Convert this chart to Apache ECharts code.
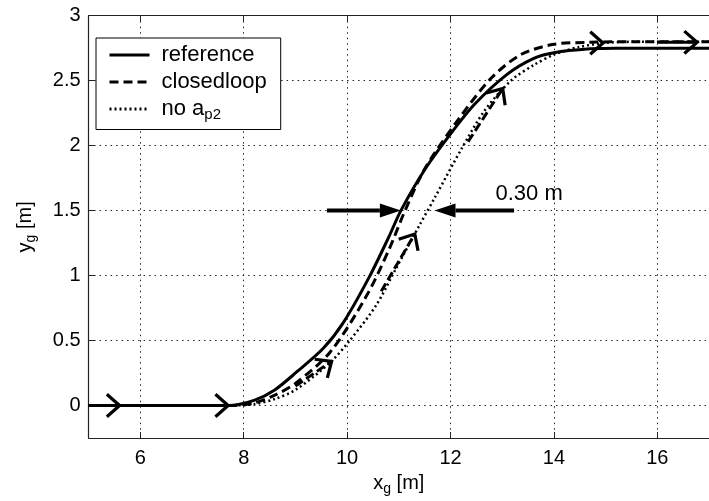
<!DOCTYPE html>
<html>
<head>
<meta charset="utf-8">
<script src="https://cdn.jsdelivr.net/npm/echarts@6/dist/echarts.min.js"></script>
<style>
  html, body { margin: 0; padding: 0; background: #fff; }
  #chart { width: 709px; height: 501px; }
</style>
</head>
<body>
<div id="chart"></div>
<script>
// Axis ticks
const xTicks = [6, 8, 10, 12, 14, 16];
const yTicks = [0, 0.5, 1, 1.5, 2, 2.5, 3];

// Lateral path y_g against x_g, in metres
const referencePath = [
  [5.0, 0], [7.0, 0], [7.7, 0], [8.2, 0.04], [8.6, 0.12], [9.03, 0.26], [9.54, 0.44],
  [9.93, 0.64], [10.43, 0.99], [10.81, 1.3], [11.04, 1.5], [11.51, 1.82],
  [12.02, 2.1], [12.47, 2.32], [13.1, 2.55], [13.6, 2.67], [14.0, 2.715],
  [14.7, 2.745], [15.2, 2.75], [16.0, 2.75], [17.0, 2.75]
];
const closedloopPath = [
  [5.0, 0], [7.0, 0], [7.7, 0], [8.2, 0.02], [8.6, 0.08], [9.0, 0.17], [9.67, 0.41],
  [10.37, 0.84], [10.81, 1.2], [11.1, 1.48], [11.5, 1.82], [12.15, 2.2],
  [12.79, 2.52], [13.36, 2.7], [14.0, 2.78], [14.7, 2.795], [15.5, 2.8], [17.0, 2.8]
];
const noAp2Path = [
  [5.0, 0], [7.0, 0], [7.7, 0], [8.2, 0.01], [8.6, 0.05], [9.0, 0.12], [9.67, 0.33],
  [10.05, 0.5], [10.56, 0.77], [10.94, 1.05], [11.39, 1.38], [11.71, 1.61],
  [12.22, 1.98], [12.66, 2.27], [13.17, 2.5], [13.61, 2.62], [14.0, 2.7],
  [14.5, 2.76], [15.14, 2.795], [16.0, 2.8], [17.0, 2.8]
];

// Direction arrows: [x tail, y tail, x tip, y tip, shaft: 0 none, 1 solid, 2 dashed]
const openArrows = [
  [5.3, 0, 5.6, 0, 0],
  [7.4, 0, 7.7, 0, 0],
  [9.0, 0.15, 9.7, 0.34, 2],
  [10.66, 0.88, 11.31, 1.32, 2],
  [12.34, 2.03, 13.01, 2.44, 2],
  [14.6, 2.79, 14.95, 2.79, 0],
  [16.0, 2.795, 16.77, 2.795, 1]
];
// Offset markers at y_g = 1.5: [x tail, y tail, x tip, y tip]
const filledArrows = [
  [9.61, 1.5, 11.04, 1.5],
  [13.23, 1.5, 11.69, 1.5]
];
const gapNote = [[12.87, 1.63, '0.30 m']];

const FONT = '"Liberation Sans", Arial, Helvetica, sans-serif';
const chart = echarts.init(document.getElementById('chart'), null, { renderer: 'canvas' });

function openArrow(params, api) {
  const p0 = api.coord([api.value(0), api.value(1)]);
  const p1 = api.coord([api.value(2), api.value(3)]);
  const shaft = api.value(4);
  const ang = Math.atan2(p1[1] - p0[1], p1[0] - p0[0]);
  const L = 17, half = 0.72;
  const a1 = [p1[0] - L * Math.cos(ang - half), p1[1] - L * Math.sin(ang - half)];
  const a2 = [p1[0] - L * Math.cos(ang + half), p1[1] - L * Math.sin(ang + half)];
  const children = [];
  if (shaft > 0) {
    children.push({
      type: 'line',
      shape: { x1: p0[0], y1: p0[1], x2: p1[0], y2: p1[1] },
      style: { stroke: '#000', lineWidth: 3, lineDash: shaft === 2 ? [9, 4] : null }
    });
  }
  children.push({
    type: 'polyline',
    shape: { points: [a1, p1, a2] },
    style: { stroke: '#000', lineWidth: 3.2, fill: null, lineJoin: 'miter' }
  });
  return { type: 'group', children };
}

function filledArrow(params, api) {
  const p0 = api.coord([api.value(0), api.value(1)]);
  const p1 = api.coord([api.value(2), api.value(3)]);
  const ang = Math.atan2(p1[1] - p0[1], p1[0] - p0[0]);
  const L = 21, W = 7;
  const bx = p1[0] - L * Math.cos(ang), by = p1[1] - L * Math.sin(ang);
  const nx = -Math.sin(ang) * W, ny = Math.cos(ang) * W;
  return {
    type: 'group',
    children: [
      { type: 'line', shape: { x1: p0[0], y1: p0[1], x2: bx, y2: by },
        style: { stroke: '#000', lineWidth: 4 } },
      { type: 'polygon', shape: { points: [p1, [bx + nx, by + ny], [bx - nx, by - ny]] },
        style: { fill: '#000' } }
    ]
  };
}

function noteText(params, api) {
  const p = api.coord([api.value(0), api.value(1)]);
  return {
    type: 'text',
    x: p[0], y: p[1],
    style: {
      text: gapNote[params.dataIndex][2],
      font: '22px ' + FONT,
      fill: '#000',
      textAlign: 'left',
      textVerticalAlign: 'middle'
    }
  };
}

const subRich = {
  t: { fontSize: 22, fontFamily: FONT, color: '#000' },
  s: { fontSize: 15, fontFamily: FONT, color: '#000', padding: [12, 0, 0, 0] }
};

const gridLine = { show: true, lineStyle: { color: '#222', width: 1, type: [1.5, 4] } };

chart.setOption({
  animation: false,
  backgroundColor: '#fff',
  grid: { left: 88.6, right: -8.4, top: 15.7, bottom: 57.4, containLabel: false },
  legend: {
    left: 96, top: 38,
    orient: 'vertical',
    padding: [6, 14, 7, 12],
    itemGap: 5,
    itemWidth: 40, itemHeight: 14,
    backgroundColor: '#fff',
    borderColor: '#000', borderWidth: 1, borderRadius: 0,
    data: ['reference', 'closedloop', 'no ap2'],
    itemStyle: { color: 'rgba(0,0,0,0)', borderWidth: 0, opacity: 0 },
    lineStyle: { width: 3 },
    formatter: function (name) {
      return name === 'no ap2' ? '{t|no a}{s|p2}' : '{t|' + name + '}';
    },
    textStyle: { fontSize: 22, fontFamily: FONT, color: '#000', padding: [0, 0, 0, 7], rich: subRich }
  },
  xAxis: [
    {
      type: 'value', min: 5, max: 17, position: 'bottom',
      name: '{t|x}{s|g}{t| [m]}', nameLocation: 'middle', nameGap: 32,
      nameTextStyle: { rich: { t: { fontSize: 20, fontFamily: FONT, color: '#000' },
                               s: { fontSize: 14, fontFamily: FONT, color: '#000', padding: [12, 0, 0, 0] } } },
      axisLine: { show: true, onZero: false, lineStyle: { color: '#222', width: 1.2 } },
      axisTick: { show: true, inside: true, length: 6, customValues: xTicks, lineStyle: { color: '#222' } },
      axisLabel: { customValues: xTicks, fontSize: 20, fontFamily: FONT, color: '#000', margin: 10 },
      splitLine: gridLine
    },
    {
      type: 'value', min: 5, max: 17, position: 'top',
      axisLine: { show: true, onZero: false, lineStyle: { color: '#222', width: 1.2 } },
      axisTick: { show: true, inside: true, length: 6, customValues: xTicks, lineStyle: { color: '#222' } },
      axisLabel: { show: false },
      splitLine: { show: false }
    }
  ],
  yAxis: {
    type: 'value', min: -0.25, max: 3,
    name: '{t|y}{s|g}{t| [m]}', nameLocation: 'middle', nameRotate: 90, nameGap: 50,
    nameTextStyle: { rich: { t: { fontSize: 20, fontFamily: FONT, color: '#000' },
                             s: { fontSize: 14, fontFamily: FONT, color: '#000', padding: [12, 0, 0, 0] } } },
    axisLine: { show: true, onZero: false, lineStyle: { color: '#222', width: 1.2 } },
    axisTick: { show: true, inside: true, length: 6, customValues: yTicks, lineStyle: { color: '#222' } },
    axisLabel: { customValues: yTicks, fontSize: 20, fontFamily: FONT, color: '#000', margin: 8 },
    splitLine: gridLine
  },
  series: [
    {
      name: 'reference', type: 'line', data: referencePath,
      smooth: 0.3, showSymbol: false, symbol: 'none',
      lineStyle: { color: '#000', width: 3, type: 'solid' }, itemStyle: { color: '#000' }
    },
    {
      name: 'closedloop', type: 'line', data: closedloopPath,
      smooth: 0.3, showSymbol: false, symbol: 'none',
      lineStyle: { color: '#000', width: 3, type: [9, 5] }, itemStyle: { color: '#000' }
    },
    {
      name: 'no ap2', type: 'line', data: noAp2Path,
      smooth: 0.3, showSymbol: false, symbol: 'none',
      lineStyle: { color: '#000', width: 2.5, type: [2, 3] }, itemStyle: { color: '#000' }
    },
    {
      type: 'custom', data: openArrows, renderItem: openArrow, clip: false,
      encode: { x: [0, 2], y: [1, 3] }, silent: true, z: 5
    },
    {
      type: 'custom', data: filledArrows, renderItem: filledArrow, clip: false,
      encode: { x: [0, 2], y: [1, 3] }, silent: true, z: 5
    },
    {
      type: 'custom', data: gapNote.map(r => [r[0], r[1]]), renderItem: noteText, clip: false,
      encode: { x: 0, y: 1 }, silent: true, z: 5
    }
  ]
});
</script>
</body>
</html>
